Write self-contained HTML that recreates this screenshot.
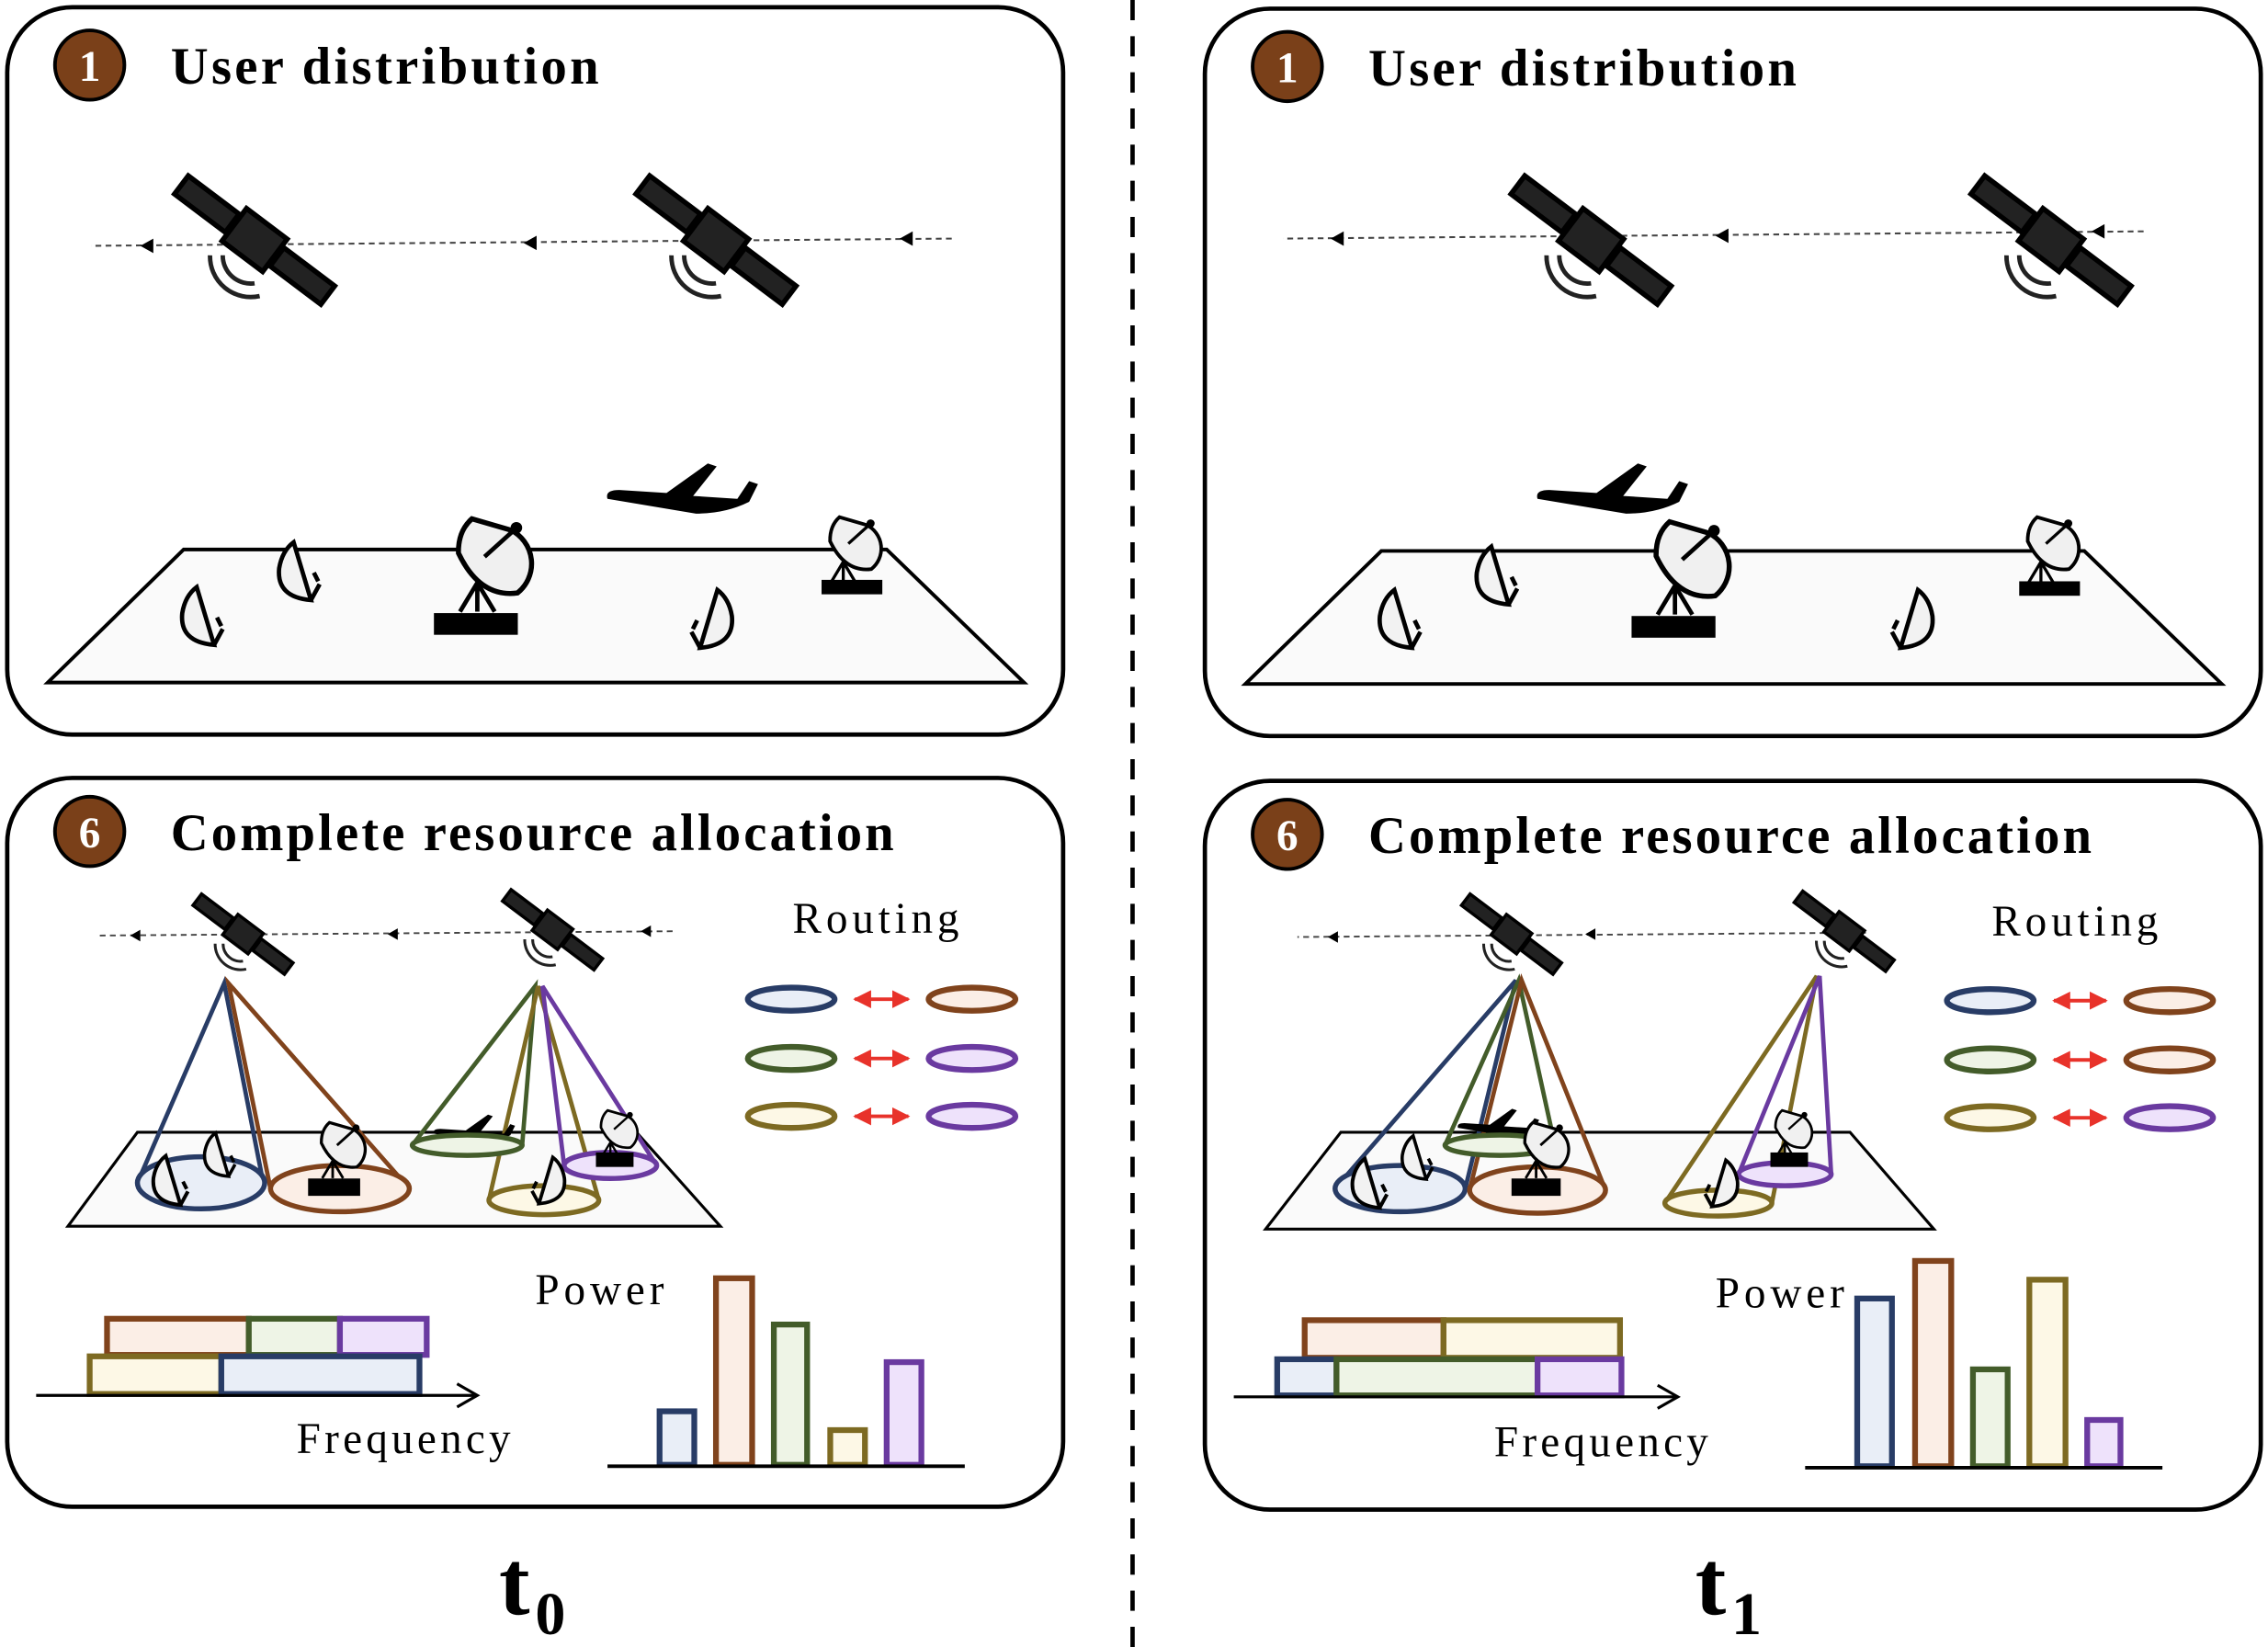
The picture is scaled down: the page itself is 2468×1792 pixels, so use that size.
<!DOCTYPE html>
<html><head><meta charset="utf-8"><style>html,body{margin:0;padding:0;background:#fff}svg{display:block}</style></head>
<body>
<svg xmlns="http://www.w3.org/2000/svg" width="2468" height="1792" viewBox="0 0 1568 1139" preserveAspectRatio="none" font-family="'Liberation Serif', serif">
<defs>
<g id="sat">
  <g transform="rotate(37)">
    <rect x="-72" y="-9" width="50" height="18" fill="#222" stroke="#000" stroke-width="4"/>
    <rect x="-20" y="-16" width="40" height="32" fill="#222" stroke="#000" stroke-width="4"/>
    <rect x="22" y="-9" width="50" height="18" fill="#222" stroke="#000" stroke-width="4"/>
  </g>
  <path d="M -25 12 A 22 22 0 0 0 0 34" fill="none" stroke="#222" stroke-width="3.5"/>
  <path d="M -35 12 A 32 32 0 0 0 4 44" fill="none" stroke="#222" stroke-width="3.5"/>
</g>
<g id="dish">
  <path d="M -4 -22 L 8 18 Q -16 16 -14 -4 Q -12 -16 -4 -22 Z" fill="#f2f2f2" stroke="#000" stroke-width="3"/>
  <path d="M 8 18 L 14 7 M 13 5 L 10 -1" fill="none" stroke="#000" stroke-width="3"/>
</g>
<g id="bigdish">
  <path d="M 18 -32 A 26 26 0 0 1 30 10 Q 5 18 -15 -10 Q -18 -25 -10 -35 Z" fill="#f0f0f0" stroke="#000" stroke-width="3.5" transform="rotate(10)"/>
  <path d="M 5 -10 L 25 -28" stroke="#000" stroke-width="3"/>
  <circle cx="27" cy="-30" r="4" fill="#000"/>
  <path d="M 0 8 L -12 28 M 0 8 L 12 28 M 0 8 L 0 28" stroke="#000" stroke-width="3"/>
</g>
<g id="plane">
  <path d="M 0 0 Q -2 -6 8 -6 L 40 -4 L 68 -24 L 74 -22 L 58 -2 L 88 0 L 96 -12 L 102 -10 L 96 2 Q 80 10 60 10 Z" fill="#000"/>
</g>
<marker id="ra" viewBox="0 0 10 10" refX="9" refY="5" markerWidth="5" markerHeight="5" orient="auto-start-reverse"><path d="M0 0 L10 5 L0 10 Z" fill="#e8322a"/></marker>
</defs>

<line x1="783" y1="0" x2="783" y2="1139" stroke="#000" stroke-width="3" stroke-dasharray="14 11"/>

<rect x="5" y="5" width="730" height="503" rx="45" fill="#fff" stroke="#000" stroke-width="3"/>
<rect x="833" y="6" width="730" height="503" rx="45" fill="#fff" stroke="#000" stroke-width="3"/>
<rect x="5" y="538" width="730" height="504" rx="45" fill="#fff" stroke="#000" stroke-width="3"/>
<rect x="833" y="540" width="730" height="504" rx="45" fill="#fff" stroke="#000" stroke-width="3"/>

<g font-weight="bold">
<circle cx="62" cy="45" r="24" fill="#7a4019" stroke="#000" stroke-width="2.5"/>
<text x="62" y="56" font-size="30" fill="#fff" text-anchor="middle">1</text>
<text x="118" y="58" font-size="36" textLength="296">User distribution</text>
<circle cx="890" cy="46" r="24" fill="#7a4019" stroke="#000" stroke-width="2.5"/>
<text x="890" y="57" font-size="30" fill="#fff" text-anchor="middle">1</text>
<text x="946" y="59" font-size="36" textLength="296">User distribution</text>
<circle cx="62" cy="575" r="24" fill="#7a4019" stroke="#000" stroke-width="2.5"/>
<text x="62" y="586" font-size="30" fill="#fff" text-anchor="middle">6</text>
<text x="118" y="588" font-size="36" textLength="500">Complete resource allocation</text>
<circle cx="890" cy="577" r="24" fill="#7a4019" stroke="#000" stroke-width="2.5"/>
<text x="890" y="588" font-size="30" fill="#fff" text-anchor="middle">6</text>
<text x="946" y="590" font-size="36" textLength="500">Complete resource allocation</text>
</g>

<!-- TL scene -->
<polygon points="127,380 613,380 708,472 33,472" fill="#fafafa" stroke="#000" stroke-width="2.5"/>
<line x1="658" y1="165" x2="63" y2="170" stroke="#444" stroke-width="1.3" stroke-dasharray="4 3"/>
<g fill="#000"><path d="M97 170 l9 -5 v10z"/><path d="M362 168 l9 -5 v10z"/><path d="M622 165 l9 -5 v10z"/></g>
<use href="#sat" transform="translate(176,166) scale(0.88)"/>
<use href="#sat" transform="translate(495,166) scale(0.88)"/>
<use href="#plane" transform="translate(420,345) scale(1.02)"/>
<use href="#dish" transform="translate(140,428)"/>
<use href="#dish" transform="translate(207,397)"/>
<use href="#dish" transform="translate(492,430) scale(-1,1)"/>
<use href="#bigdish" transform="translate(330,395)"/>
<rect x="300" y="424" width="58" height="15" fill="#000"/>
<use href="#bigdish" transform="translate(583,383) scale(0.7)"/>
<rect x="568" y="401" width="42" height="10" fill="#000"/>

<!-- TR scene -->
<polygon points="955,381 1441,381 1536,473 861,473" fill="#fafafa" stroke="#000" stroke-width="2.5"/>
<line x1="1482" y1="160" x2="887" y2="165" stroke="#444" stroke-width="1.3" stroke-dasharray="4 3"/>
<g fill="#000"><path d="M920 165 l9 -5 v10z"/><path d="M1186 163 l9 -5 v10z"/><path d="M1446 160 l9 -5 v10z"/></g>
<use href="#sat" transform="translate(1100,166) scale(0.88)"/>
<use href="#sat" transform="translate(1418,166) scale(0.88)"/>
<use href="#plane" transform="translate(1063,345) scale(1.02)"/>
<use href="#dish" transform="translate(968,430)"/>
<use href="#dish" transform="translate(1035,400)"/>
<use href="#dish" transform="translate(1322,430) scale(-1,1)"/>
<use href="#bigdish" transform="translate(1158,397)"/>
<rect x="1128" y="426" width="58" height="15" fill="#000"/>
<use href="#bigdish" transform="translate(1411,383) scale(0.7)"/>
<rect x="1396" y="402" width="42" height="10" fill="#000"/>

<!-- BL scene -->
<polygon points="95,783 440,783 498,848 47,848" fill="#fafafa" stroke="#000" stroke-width="2"/>
<line x1="465" y1="644" x2="67" y2="647" stroke="#444" stroke-width="1.2" stroke-dasharray="4 3"/>
<g fill="#000"><path d="M90 647 l7 -4 v8z"/><path d="M268 646 l7 -4 v8z"/><path d="M443 644 l7 -4 v8z"/></g>
<use href="#sat" transform="translate(168,646) scale(0.55)"/>
<use href="#sat" transform="translate(382,643) scale(0.55)"/>
<g fill="none" stroke-width="3">
<path d="M95 818 L155 680 L182 818" stroke="#283c66"/>
<path d="M187 822 L158 680 L283 822" stroke="#80431c"/>
<path d="M285 792 L370 682 L361 792" stroke="#435c2a"/>
<path d="M338 830 L372 682 L414 830" stroke="#7d6a22"/>
<path d="M390 806 L375 682 L454 806" stroke="#6a3aa0"/>
</g>
<use href="#plane" transform="translate(300,784) scale(0.55)"/>
<ellipse cx="323" cy="792" rx="38" ry="7" fill="#eef4e6" stroke="#435c2a" stroke-width="3.5"/>
<ellipse cx="139" cy="818" rx="44" ry="18" fill="#e9eef7" stroke="#283c66" stroke-width="3.5"/>
<ellipse cx="235" cy="822" rx="48" ry="16" fill="#fbeee6" stroke="#80431c" stroke-width="3.5"/>
<ellipse cx="376" cy="830" rx="38" ry="10" fill="#fdf8e6" stroke="#7d6a22" stroke-width="3.5"/>
<ellipse cx="422" cy="806" rx="32" ry="9" fill="#eee2fb" stroke="#6a3aa0" stroke-width="3.5"/>
<use href="#dish" transform="translate(118,818) scale(0.85)"/>
<use href="#dish" transform="translate(152,800) scale(0.75)"/>
<use href="#dish" transform="translate(379,818) scale(-0.8,0.8)"/>
<use href="#bigdish" transform="translate(230,798) scale(0.6)"/>
<rect x="213" y="815" width="36" height="12" fill="#000"/>
<use href="#bigdish" transform="translate(422,786) scale(0.5)"/>
<rect x="412" y="797" width="26" height="10" fill="#000"/>

<text x="548" y="645" font-size="30" textLength="115">Routing</text>
<g stroke-width="4">
<ellipse cx="547" cy="691" rx="30" ry="8" fill="#e9eef7" stroke="#283c66"/>
<ellipse cx="672" cy="691" rx="30" ry="8" fill="#fbeee6" stroke="#80431c"/>
<ellipse cx="547" cy="732" rx="30" ry="8" fill="#eef4e6" stroke="#435c2a"/>
<ellipse cx="672" cy="732" rx="30" ry="8" fill="#eee2fb" stroke="#6a3aa0"/>
<ellipse cx="547" cy="772" rx="30" ry="8" fill="#fdf8e6" stroke="#7d6a22"/>
<ellipse cx="672" cy="772" rx="30" ry="8" fill="#eee2fb" stroke="#6a3aa0"/>
</g>
<g stroke="#e8322a" stroke-width="2.5" marker-start="url(#ra)" marker-end="url(#ra)">
<line x1="591" y1="691" x2="628" y2="691"/><line x1="591" y1="732" x2="628" y2="732"/><line x1="591" y1="772" x2="628" y2="772"/>
</g>

<g stroke-width="4">
<rect x="74" y="912" width="98" height="25" fill="#fbeee6" stroke="#80431c"/>
<rect x="172" y="912" width="63" height="25" fill="#eef4e6" stroke="#435c2a"/>
<rect x="235" y="912" width="60" height="25" fill="#eee2fb" stroke="#6a3aa0"/>
<rect x="62" y="938" width="91" height="26" fill="#fdf8e6" stroke="#7d6a22"/>
<rect x="153" y="938" width="137" height="26" fill="#e9eef7" stroke="#283c66"/>
</g>
<line x1="25" y1="965" x2="328" y2="965" stroke="#000" stroke-width="2"/>
<path d="M316 957 L330 965 L316 973" fill="none" stroke="#000" stroke-width="2"/>
<text x="205" y="1005" font-size="30" textLength="148">Frequency</text>
<text x="370" y="902" font-size="30" textLength="89">Power</text>
<g stroke-width="4">
<rect x="456" y="976" width="24" height="37" fill="#e9eef7" stroke="#283c66"/>
<rect x="495" y="884" width="25" height="129" fill="#fbeee6" stroke="#80431c"/>
<rect x="535" y="916" width="23" height="97" fill="#eef4e6" stroke="#435c2a"/>
<rect x="574" y="989" width="24" height="24" fill="#fdf8e6" stroke="#7d6a22"/>
<rect x="613" y="942" width="24" height="71" fill="#eee2fb" stroke="#6a3aa0"/>
</g>
<line x1="420" y1="1014" x2="667" y2="1014" stroke="#000" stroke-width="2.5"/>

<!-- BR scene -->
<polygon points="927,783 1279,783 1337,850 875,850" fill="#fafafa" stroke="#000" stroke-width="2"/>
<line x1="1290" y1="645" x2="897" y2="648" stroke="#444" stroke-width="1.2" stroke-dasharray="4 3"/>
<g fill="#000"><path d="M918 648 l7 -4 v8z"/><path d="M1096 646 l7 -4 v8z"/></g>
<use href="#sat" transform="translate(1045,646) scale(0.55)"/>
<use href="#sat" transform="translate(1275,644) scale(0.55)"/>
<g fill="none" stroke-width="3">
<path d="M923 822 L1048 678 L1013 822" stroke="#283c66"/>
<path d="M999 792 L1050 678 L1075 792" stroke="#435c2a"/>
<path d="M1016 823 L1052 678 L1110 823" stroke="#80431c"/>
<path d="M1151 832 L1256 675 L1225 832" stroke="#7d6a22"/>
<path d="M1202 812 L1258 675 L1266 812" stroke="#6a3aa0"/>
</g>
<use href="#plane" transform="translate(1008,780) scale(0.55)"/>
<ellipse cx="1037" cy="792" rx="38" ry="7" fill="#eef4e6" stroke="#435c2a" stroke-width="3.5"/>
<ellipse cx="968" cy="822" rx="45" ry="16" fill="#e9eef7" stroke="#283c66" stroke-width="3.5"/>
<ellipse cx="1063" cy="823" rx="47" ry="16" fill="#fbeee6" stroke="#80431c" stroke-width="3.5"/>
<ellipse cx="1188" cy="832" rx="37" ry="9" fill="#fdf8e6" stroke="#7d6a22" stroke-width="3.5"/>
<ellipse cx="1234" cy="812" rx="32" ry="8" fill="#eee2fb" stroke="#6a3aa0" stroke-width="3.5"/>
<use href="#dish" transform="translate(947,820) scale(0.85)"/>
<use href="#dish" transform="translate(980,802) scale(0.75)"/>
<use href="#dish" transform="translate(1190,820) scale(-0.8,0.8)"/>
<use href="#bigdish" transform="translate(1062,798) scale(0.6)"/>
<rect x="1045" y="815" width="34" height="12" fill="#000"/>
<use href="#bigdish" transform="translate(1234,786) scale(0.5)"/>
<rect x="1224" y="797" width="26" height="10" fill="#000"/>

<text x="1377" y="647" font-size="30" textLength="115">Routing</text>
<g stroke-width="4">
<ellipse cx="1376" cy="692" rx="30" ry="8" fill="#e9eef7" stroke="#283c66"/>
<ellipse cx="1500" cy="692" rx="30" ry="8" fill="#fbeee6" stroke="#80431c"/>
<ellipse cx="1376" cy="733" rx="30" ry="8" fill="#eef4e6" stroke="#435c2a"/>
<ellipse cx="1500" cy="733" rx="30" ry="8" fill="#fbeee6" stroke="#80431c"/>
<ellipse cx="1376" cy="773" rx="30" ry="8" fill="#fdf8e6" stroke="#7d6a22"/>
<ellipse cx="1500" cy="773" rx="30" ry="8" fill="#eee2fb" stroke="#6a3aa0"/>
</g>
<g stroke="#e8322a" stroke-width="2.5" marker-start="url(#ra)" marker-end="url(#ra)">
<line x1="1420" y1="692" x2="1456" y2="692"/><line x1="1420" y1="733" x2="1456" y2="733"/><line x1="1420" y1="773" x2="1456" y2="773"/>
</g>

<g stroke-width="4">
<rect x="902" y="913" width="96" height="26" fill="#fbeee6" stroke="#80431c"/>
<rect x="998" y="913" width="122" height="26" fill="#fdf8e6" stroke="#7d6a22"/>
<rect x="883" y="940" width="41" height="25" fill="#e9eef7" stroke="#283c66"/>
<rect x="924" y="940" width="139" height="25" fill="#eef4e6" stroke="#435c2a"/>
<rect x="1063" y="940" width="58" height="25" fill="#eee2fb" stroke="#6a3aa0"/>
</g>
<line x1="853" y1="966" x2="1158" y2="966" stroke="#000" stroke-width="2"/>
<path d="M1146 958 L1160 966 L1146 974" fill="none" stroke="#000" stroke-width="2"/>
<text x="1033" y="1007" font-size="30" textLength="148">Frequency</text>
<text x="1186" y="904" font-size="30" textLength="89">Power</text>
<g stroke-width="4">
<rect x="1284" y="898" width="24" height="116" fill="#e9eef7" stroke="#283c66"/>
<rect x="1324" y="872" width="25" height="142" fill="#fbeee6" stroke="#80431c"/>
<rect x="1364" y="947" width="24" height="67" fill="#eef4e6" stroke="#435c2a"/>
<rect x="1403" y="885" width="25" height="129" fill="#fdf8e6" stroke="#7d6a22"/>
<rect x="1443" y="982" width="23" height="32" fill="#eee2fb" stroke="#6a3aa0"/>
</g>
<line x1="1248" y1="1015" x2="1495" y2="1015" stroke="#000" stroke-width="2.5"/>

<text x="345" y="1116" font-size="64" font-weight="bold">t</text>
<text x="370" y="1130" font-size="42" font-weight="bold">0</text>
<text x="1172" y="1116" font-size="64" font-weight="bold">t</text>
<text x="1197" y="1130" font-size="42" font-weight="bold">1</text>
</svg>
</body></html>
